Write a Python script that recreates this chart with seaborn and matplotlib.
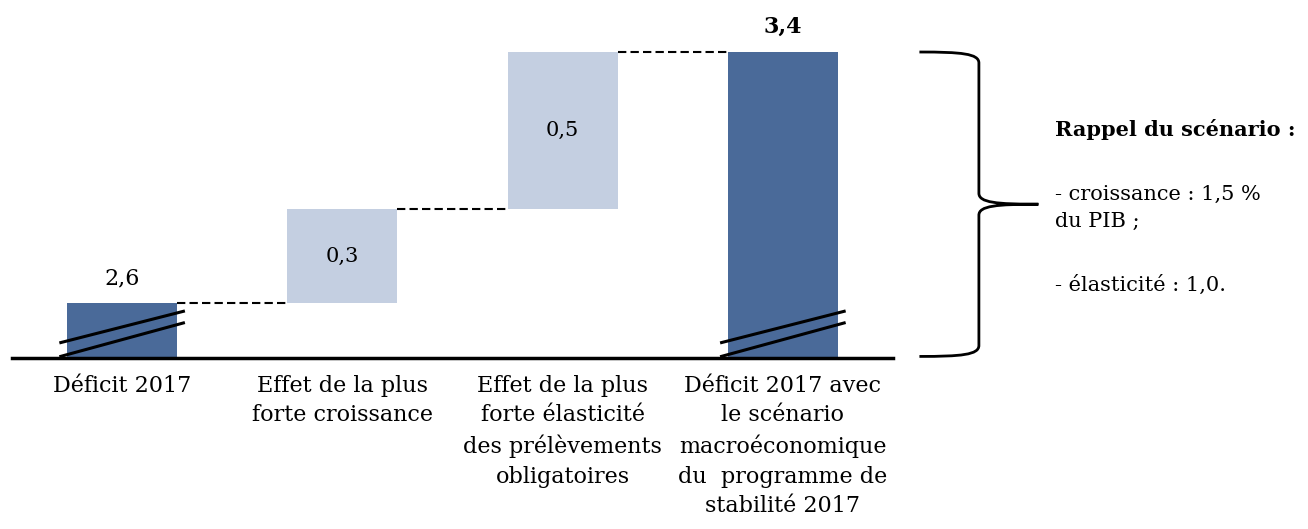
import matplotlib
matplotlib.use("Agg")
import matplotlib.pyplot as plt
from matplotlib.path import Path
from matplotlib.patches import PathPatch
import numpy as np
import pandas as pd
import seaborn as sns

# Data
categories = ["Déficit 2017",
              "Effet de la plus\nforte croissance",
              "Effet de la plus\nforte élasticité\ndes prélèvements\nobligatoires",
              "Déficit 2017 avec\nle scénario\nmacroéconomique\ndu  programme de\nstabilité 2017"]
values = [2.6, 0.3, 0.5, 3.4]
is_total = [True, False, False, True]
value_labels = ["2,6", "0,3", "0,5", "3,4"]
scenario_lines = ["- croissance : 1,5 %\ndu PIB ;", "- élasticité : 1,0."]

# Colours
DARK = "#4a6a99"
LIGHT = "#c4cfe1"

# Waterfall bottoms
bottoms = []
running = 0.0
for v, tot in zip(values, is_total):
    if tot:
        bottoms.append(0.0)
        running = v
    else:
        bottoms.append(running)
        running += v
tops = [b + v for b, v in zip(bottoms, values)]

df = pd.DataFrame({"categorie": categories, "valeur": values})

sns.set_theme(style="white")
plt.rcParams["font.family"] = ["DejaVu Serif"]
plt.rcParams["text.color"] = "black"
plt.rcParams["xtick.color"] = "black"

W, H = 1308, 529
fig = plt.figure(figsize=(W / 100, H / 100), dpi=100)
ax = fig.add_axes([12 / W, (H - 358) / H, 881 / W, 358 / H])

sns.barplot(data=df, x="categorie", y="valeur", bottom=bottoms,
            width=0.5, color=DARK, ax=ax, linewidth=0)
for patch, tot in zip(ax.patches, is_total):
    patch.set_facecolor(DARK if tot else LIGHT)

y_low = 2.425
y_high = 3.4 + 52 / 313.75
ax.set_xlim(-0.5, 3.5)
ax.set_ylim(y_low, y_high)

for side in ["top", "right", "left"]:
    ax.spines[side].set_visible(False)
ax.spines["bottom"].set_color("black")
ax.spines["bottom"].set_linewidth(2.5)
ax.set_yticks([])
ax.set_xlabel("")
ax.set_ylabel("")
ax.tick_params(axis="x", length=0, pad=12, labelsize=16, labelcolor="black")
for lab in ax.get_xticklabels():
    lab.set_linespacing(1.45)

# Dashed connectors
half = 0.25
for i in range(len(values) - 1):
    ax.plot([i + half, i + 1 - half], [tops[i], tops[i]],
            color="black", linestyle=(0, (4, 2)), linewidth=1.5)

# Value labels
for i, (lab, tot) in enumerate(zip(value_labels, is_total)):
    if tot:
        ax.annotate(lab, (i, tops[i]), xytext=(0, 10), textcoords="offset points",
                    ha="center", va="bottom", fontsize=16,
                    fontweight="bold" if i == len(values) - 1 else "normal")
    else:
        ax.text(i, bottoms[i] + values[i] / 2, lab, ha="center", va="center",
                fontsize=15)

# Axis break marks on total bars
for i, tot in enumerate(is_total):
    if tot:
        xs = [i - 0.285, i + 0.285]
        ax.plot(xs, [y_low + 0.048, y_low + 0.15], color="black", lw=2.2,
                clip_on=False, solid_capstyle="butt")
        ax.plot(xs, [y_low + 0.004, y_low + 0.113], color="black", lw=2.2,
                clip_on=False, solid_capstyle="butt")

# Curly brace
x0, xm, xt = 3.62, 3.89, 4.16
yt, yb = 3.4, y_low + 0.005
ymid = (yt + yb) / 2
d = 0.035
verts = [(x0, yt), (xm - 0.08, yt), (xm, yt - 0.005), (xm, yt - d),
         (xm, ymid + d),
         (xm, ymid + 0.005), (xm + 0.08, ymid), (xt, ymid),
         (xm + 0.08, ymid), (xm, ymid - 0.005), (xm, ymid - d),
         (xm, yb + d),
         (xm, yb + 0.005), (xm - 0.08, yb), (x0, yb)]
codes = [Path.MOVETO, Path.CURVE4, Path.CURVE4, Path.CURVE4,
         Path.LINETO,
         Path.CURVE4, Path.CURVE4, Path.CURVE4,
         Path.CURVE4, Path.CURVE4, Path.CURVE4,
         Path.LINETO,
         Path.CURVE4, Path.CURVE4, Path.CURVE4]
brace = PathPatch(Path(verts, codes), facecolor="none", edgecolor="black",
                  lw=2.0, clip_on=False)
ax.add_patch(brace)

# Scenario text
fig.text(1055 / W, 1 - 130 / H, "Rappel du scénario :", fontsize=15,
         fontweight="bold", va="center", ha="left")
fig.text(1055 / W, 1 - 208 / H, scenario_lines[0], fontsize=15,
         va="center", ha="left", linespacing=1.55)
fig.text(1055 / W, 1 - 285 / H, scenario_lines[1], fontsize=15,
         va="center", ha="left")

fig.savefig("out.png", dpi=100)
